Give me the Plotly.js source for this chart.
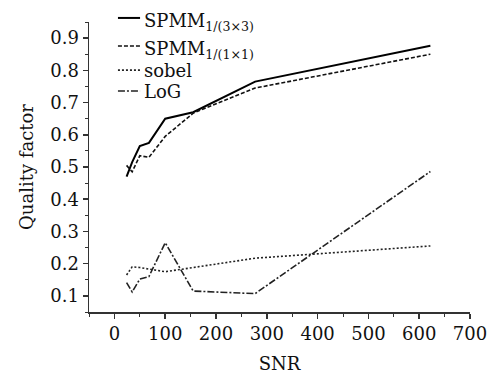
<!DOCTYPE html>
<html>
<head>
<meta charset="utf-8">
<script src="https://cdn.plot.ly/plotly-3.0.1.min.js"></script>
<style>html,body{margin:0;padding:0;background:#fff;}#chart{width:492px;height:377px;}</style>
</head>
<body>
<div id="chart"></div>
<script>
const snr = [24, 35, 50, 68, 100, 155, 277, 622];
const spmm3 = [0.47, 0.515, 0.565, 0.575, 0.65, 0.67, 0.765, 0.876];
const spmm1 = [0.505, 0.485, 0.535, 0.53, 0.595, 0.667, 0.745, 0.85];
const sobel = [0.165, 0.19, 0.188, 0.183, 0.175, 0.188, 0.217, 0.255];
const logv = [0.141, 0.112, 0.152, 0.16, 0.265, 0.115, 0.107, 0.486];
const names = ['SPMM<sub>1/(3×3)</sub>', 'SPMM<sub>1/(1×1)</sub>', 'sobel', 'LoG'];
const yTicks = [0.1, 0.2, 0.3, 0.4, 0.5, 0.6, 0.7, 0.8, 0.9];
const xTicks = [0, 100, 200, 300, 400, 500, 600, 700];

const font = 'DejaVu Serif, serif';
const styles = [
  {color: '#000', width: 2, dash: 'solid'},
  {color: '#111', width: 1.6, dash: '4px,2px'},
  {color: '#222', width: 1.6, dash: '2px,2px'},
  {color: '#222', width: 1.6, dash: '7px,2px,2px,2px'}
];
const series = [spmm3, spmm1, sobel, logv];
const traces = series.map((s, i) => ({x: snr, y: s, name: names[i], mode: 'lines', line: styles[i], showlegend: false}));

// manual legend (paper coordinates)
const legY = [1.014, 0.917, 0.834, 0.762];
const legX0 = 0.076, legX1 = 0.134, legTx = 0.140;
const shapes = legY.map((y, i) => ({type: 'line', xref: 'paper', yref: 'paper', x0: legX0, x1: legX1, y0: y, y1: y, line: styles[i]}));
const annotations = legY.map((y, i) => ({
  xref: 'paper', yref: 'paper', x: legTx, y: y, xanchor: 'left', yanchor: 'middle',
  text: names[i], showarrow: false, font: {family: font, size: 18, color: '#111'},
  yshift: i < 2 ? -4 : 0
}));

const layout = {
  width: 492, height: 377,
  margin: {l: 89, r: 22, t: 22, b: 65},
  paper_bgcolor: '#fff', plot_bgcolor: '#fff',
  font: {family: font, size: 18, color: '#111'},
  showlegend: false,
  shapes: shapes,
  annotations: annotations,
  xaxis: {
    range: [-50, 700], tickvals: xTicks, ticktext: xTicks.map(String),
    showgrid: false, zeroline: false, showline: true, linecolor: '#333', linewidth: 1.5,
    ticks: 'outside', ticklen: 5, tickcolor: '#333', tickwidth: 1.5,
    minor: {dtick: 50, tick0: 0, ticks: 'outside', ticklen: 3, tickcolor: '#333', tickwidth: 1},
    title: {text: 'SNR', font: {family: font, size: 18, color: '#111'}, standoff: 14},
    tickfont: {family: font, size: 18, color: '#111'}
  },
  yaxis: {
    range: [0.05, 0.95], tickvals: yTicks, ticktext: yTicks.map(v => v.toFixed(1)),
    showgrid: false, zeroline: false, showline: true, linecolor: '#333', linewidth: 1.5,
    ticks: 'outside', ticklen: 5, tickcolor: '#333', tickwidth: 1.5,
    minor: {dtick: 0.05, tick0: 0.05, ticks: 'outside', ticklen: 3, tickcolor: '#333', tickwidth: 1},
    title: {text: 'Quality factor', font: {family: font, size: 18, color: '#111'}, standoff: 12},
    tickfont: {family: font, size: 18, color: '#111'}
  }
};
Plotly.newPlot('chart', traces, layout, {displayModeBar: false, staticPlot: true});
</script>
</body>
</html>
